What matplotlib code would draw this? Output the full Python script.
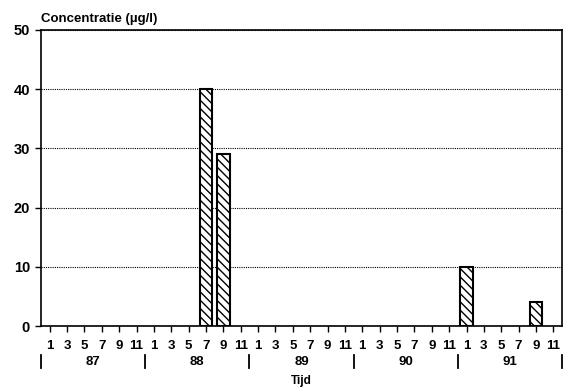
import matplotlib.pyplot as plt
import matplotlib.transforms as mtransforms

plt.rcParams['font.family'] = ['Liberation Sans', 'DejaVu Sans']
plt.rcParams['hatch.linewidth'] = 1.0

years = [87, 88, 89, 90, 91]
month_labels = [1, 3, 5, 7, 9, 11]
bar_year = [88, 88, 91, 91]
bar_month = [7, 9, 1, 9]
concentration = [40, 29, 10, 4]

# positie in maanden sinds jan 87
pos = [(y - 87) * 12 + (m - 1) for y, m in zip(bar_year, bar_month)]

fig = plt.figure(figsize=(5.64, 3.87), dpi=100)
ax = fig.add_axes([0.0727, 0.1576, 0.9238, 0.7649])

ax.bar(pos, concentration, width=1.45, color='white', edgecolor='black',
       linewidth=1.5, hatch='\\\\\\\\', zorder=3)

ax.set_xlim(-1, 59)
ax.set_ylim(0, 50)
ax.set_yticks([0, 10, 20, 30, 40, 50])
ax.set_yticklabels(['0', '10', '20', '30', '40', '50'], fontsize=10.5,
                   fontweight='bold')
ax.yaxis.grid(True, linestyle=(0, (1, 1)), color='black', linewidth=0.8)

xt = list(range(0, 60, 2))
ax.set_xticks(xt)
ax.set_xticklabels([str(m) for _ in years for m in month_labels],
                   fontsize=9.5, fontweight='bold')
ax.tick_params(axis='x', length=4, width=1, pad=6, direction='out')
ax.tick_params(axis='y', length=4, width=1, pad=4)

for s in ax.spines.values():
    s.set_linewidth(1.2)

trans = mtransforms.blended_transform_factory(ax.transData, ax.transAxes)
for i, y in enumerate(years):
    ax.text(i * 12 + 5, -0.122, str(y), transform=trans, ha='center',
            va='center', fontsize=9.5, fontweight='bold')
for i in range(len(years) + 1):
    xs = i * 12 - 1
    ax.plot([xs, xs], [-0.098, -0.142], transform=trans, color='black',
            linewidth=1.3, clip_on=False)

ax.text(0.0, 1.036, 'Concentratie (µg/l)', transform=ax.transAxes,
        fontsize=9.5, fontweight='bold', ha='left', va='center')
ax.text(0.5, -0.186, 'Tijd', transform=ax.transAxes, fontsize=8.5,
        fontweight='bold', ha='center', va='center')

fig.savefig('out.png', dpi=100)
